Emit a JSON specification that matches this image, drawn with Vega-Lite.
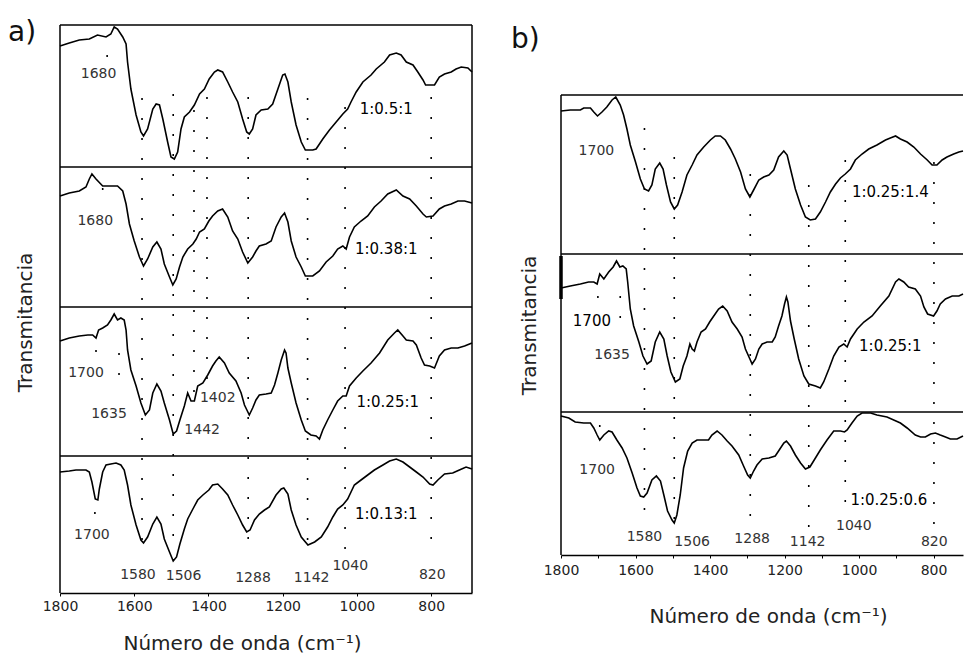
{
  "$schema": "https://vega.github.io/schema/vega-lite/v6.json",
  "padding": {"left": 8, "top": 18, "right": 0, "bottom": 0},
  "bounds": "flush",
  "spacing": 89,
  "config": {
    "font": "DejaVu Sans",
    "view": {"stroke": null},
    "axis": {"grid": false, "labelFont": "DejaVu Sans", "titleFont": "DejaVu Sans", "titleFontWeight": "normal", "titleColor": "#222", "labelColor": "#222"}
  },
  "datasets": {
    "specA": [
      {"s":"a1","wn":1800,"t":547},{"s":"a1","wn":1775,"t":550},{"s":"a1","wn":1748,"t":553},{"s":"a1","wn":1721,"t":554},{"s":"a1","wn":1699,"t":558},{"s":"a1","wn":1676,"t":556},{"s":"a1","wn":1663,"t":559},{"s":"a1","wn":1654,"t":566},{"s":"a1","wn":1645,"t":564},{"s":"a1","wn":1631,"t":556},{"s":"a1","wn":1622,"t":549},{"s":"a1","wn":1618,"t":531},{"s":"a1","wn":1609,"t":504},{"s":"a1","wn":1595,"t":478},{"s":"a1","wn":1582,"t":461},{"s":"a1","wn":1575,"t":457},{"s":"a1","wn":1564,"t":464},{"s":"a1","wn":1550,"t":484},{"s":"a1","wn":1541,"t":489},{"s":"a1","wn":1532,"t":488},{"s":"a1","wn":1523,"t":474},{"s":"a1","wn":1510,"t":451},{"s":"a1","wn":1501,"t":436},{"s":"a1","wn":1492,"t":434},{"s":"a1","wn":1483,"t":441},{"s":"a1","wn":1474,"t":464},{"s":"a1","wn":1465,"t":476},{"s":"a1","wn":1451,"t":481},{"s":"a1","wn":1438,"t":488},{"s":"a1","wn":1424,"t":499},{"s":"a1","wn":1411,"t":504},{"s":"a1","wn":1398,"t":514},{"s":"a1","wn":1384,"t":521},{"s":"a1","wn":1375,"t":523},{"s":"a1","wn":1362,"t":521},{"s":"a1","wn":1348,"t":511},{"s":"a1","wn":1335,"t":501},{"s":"a1","wn":1321,"t":491},{"s":"a1","wn":1308,"t":474},{"s":"a1","wn":1297,"t":461},{"s":"a1","wn":1290,"t":459},{"s":"a1","wn":1281,"t":464},{"s":"a1","wn":1272,"t":478},{"s":"a1","wn":1258,"t":483},{"s":"a1","wn":1240,"t":484},{"s":"a1","wn":1227,"t":489},{"s":"a1","wn":1213,"t":504},{"s":"a1","wn":1200,"t":518},{"s":"a1","wn":1194,"t":519},{"s":"a1","wn":1186,"t":511},{"s":"a1","wn":1177,"t":491},{"s":"a1","wn":1164,"t":468},{"s":"a1","wn":1150,"t":451},{"s":"a1","wn":1139,"t":443},{"s":"a1","wn":1119,"t":443},{"s":"a1","wn":1110,"t":444},{"s":"a1","wn":1092,"t":454},{"s":"a1","wn":1074,"t":463},{"s":"a1","wn":1056,"t":471},{"s":"a1","wn":1038,"t":479},{"s":"a1","wn":1025,"t":484},{"s":"a1","wn":1016,"t":491},{"s":"a1","wn":1002,"t":501},{"s":"a1","wn":984,"t":511},{"s":"a1","wn":962,"t":518},{"s":"a1","wn":948,"t":524},{"s":"a1","wn":926,"t":531},{"s":"a1","wn":912,"t":538},{"s":"a1","wn":894,"t":540},{"s":"a1","wn":881,"t":538},{"s":"a1","wn":867,"t":531},{"s":"a1","wn":849,"t":528},{"s":"a1","wn":836,"t":521},{"s":"a1","wn":822,"t":513},{"s":"a1","wn":815,"t":508},{"s":"a1","wn":791,"t":508},{"s":"a1","wn":778,"t":516},{"s":"a1","wn":764,"t":519},{"s":"a1","wn":746,"t":521},{"s":"a1","wn":733,"t":524},{"s":"a1","wn":719,"t":526},{"s":"a1","wn":701,"t":525},{"s":"a1","wn":690,"t":521},
      {"s":"a2","wn":1800,"t":397},{"s":"a2","wn":1775,"t":400},{"s":"a2","wn":1748,"t":402},{"s":"a2","wn":1730,"t":406},{"s":"a2","wn":1721,"t":414},{"s":"a2","wn":1714,"t":419},{"s":"a2","wn":1703,"t":414},{"s":"a2","wn":1685,"t":407},{"s":"a2","wn":1667,"t":407},{"s":"a2","wn":1645,"t":407},{"s":"a2","wn":1631,"t":402},{"s":"a2","wn":1622,"t":389},{"s":"a2","wn":1613,"t":369},{"s":"a2","wn":1600,"t":352},{"s":"a2","wn":1586,"t":336},{"s":"a2","wn":1575,"t":327},{"s":"a2","wn":1564,"t":334},{"s":"a2","wn":1550,"t":346},{"s":"a2","wn":1539,"t":351},{"s":"a2","wn":1528,"t":344},{"s":"a2","wn":1519,"t":329},{"s":"a2","wn":1505,"t":316},{"s":"a2","wn":1496,"t":308},{"s":"a2","wn":1487,"t":314},{"s":"a2","wn":1478,"t":326},{"s":"a2","wn":1469,"t":336},{"s":"a2","wn":1456,"t":344},{"s":"a2","wn":1442,"t":349},{"s":"a2","wn":1433,"t":354},{"s":"a2","wn":1424,"t":361},{"s":"a2","wn":1411,"t":364},{"s":"a2","wn":1399,"t":372},{"s":"a2","wn":1389,"t":377},{"s":"a2","wn":1375,"t":382},{"s":"a2","wn":1362,"t":384},{"s":"a2","wn":1348,"t":376},{"s":"a2","wn":1335,"t":362},{"s":"a2","wn":1321,"t":354},{"s":"a2","wn":1308,"t":341},{"s":"a2","wn":1294,"t":330},{"s":"a2","wn":1281,"t":336},{"s":"a2","wn":1272,"t":342},{"s":"a2","wn":1263,"t":347},{"s":"a2","wn":1245,"t":349},{"s":"a2","wn":1231,"t":352},{"s":"a2","wn":1218,"t":366},{"s":"a2","wn":1204,"t":376},{"s":"a2","wn":1195,"t":380},{"s":"a2","wn":1186,"t":371},{"s":"a2","wn":1177,"t":352},{"s":"a2","wn":1164,"t":336},{"s":"a2","wn":1150,"t":326},{"s":"a2","wn":1139,"t":317},{"s":"a2","wn":1119,"t":317},{"s":"a2","wn":1101,"t":322},{"s":"a2","wn":1083,"t":331},{"s":"a2","wn":1065,"t":337},{"s":"a2","wn":1052,"t":344},{"s":"a2","wn":1038,"t":347},{"s":"a2","wn":1029,"t":344},{"s":"a2","wn":1020,"t":356},{"s":"a2","wn":1007,"t":366},{"s":"a2","wn":989,"t":372},{"s":"a2","wn":971,"t":377},{"s":"a2","wn":953,"t":386},{"s":"a2","wn":935,"t":392},{"s":"a2","wn":917,"t":399},{"s":"a2","wn":894,"t":403},{"s":"a2","wn":876,"t":397},{"s":"a2","wn":858,"t":394},{"s":"a2","wn":840,"t":387},{"s":"a2","wn":822,"t":379},{"s":"a2","wn":813,"t":376},{"s":"a2","wn":795,"t":377},{"s":"a2","wn":778,"t":384},{"s":"a2","wn":764,"t":387},{"s":"a2","wn":746,"t":389},{"s":"a2","wn":728,"t":392},{"s":"a2","wn":710,"t":392},{"s":"a2","wn":690,"t":390},
      {"s":"a3","wn":1800,"t":252},{"s":"a3","wn":1775,"t":255},{"s":"a3","wn":1748,"t":257},{"s":"a3","wn":1725,"t":258},{"s":"a3","wn":1712,"t":258},{"s":"a3","wn":1703,"t":255},{"s":"a3","wn":1696,"t":263},{"s":"a3","wn":1685,"t":265},{"s":"a3","wn":1672,"t":268},{"s":"a3","wn":1663,"t":273},{"s":"a3","wn":1654,"t":279},{"s":"a3","wn":1645,"t":273},{"s":"a3","wn":1636,"t":275},{"s":"a3","wn":1627,"t":273},{"s":"a3","wn":1622,"t":263},{"s":"a3","wn":1618,"t":243},{"s":"a3","wn":1609,"t":223},{"s":"a3","wn":1595,"t":207},{"s":"a3","wn":1582,"t":190},{"s":"a3","wn":1570,"t":178},{"s":"a3","wn":1559,"t":183},{"s":"a3","wn":1550,"t":200},{"s":"a3","wn":1539,"t":209},{"s":"a3","wn":1528,"t":202},{"s":"a3","wn":1519,"t":190},{"s":"a3","wn":1505,"t":173},{"s":"a3","wn":1495,"t":159},{"s":"a3","wn":1486,"t":162},{"s":"a3","wn":1477,"t":173},{"s":"a3","wn":1465,"t":187},{"s":"a3","wn":1456,"t":200},{"s":"a3","wn":1447,"t":192},{"s":"a3","wn":1438,"t":192},{"s":"a3","wn":1429,"t":207},{"s":"a3","wn":1415,"t":210},{"s":"a3","wn":1402,"t":218},{"s":"a3","wn":1389,"t":227},{"s":"a3","wn":1380,"t":232},{"s":"a3","wn":1371,"t":236},{"s":"a3","wn":1357,"t":230},{"s":"a3","wn":1344,"t":220},{"s":"a3","wn":1326,"t":212},{"s":"a3","wn":1312,"t":200},{"s":"a3","wn":1303,"t":188},{"s":"a3","wn":1290,"t":178},{"s":"a3","wn":1281,"t":185},{"s":"a3","wn":1272,"t":193},{"s":"a3","wn":1263,"t":198},{"s":"a3","wn":1245,"t":199},{"s":"a3","wn":1231,"t":200},{"s":"a3","wn":1222,"t":208},{"s":"a3","wn":1213,"t":220},{"s":"a3","wn":1204,"t":233},{"s":"a3","wn":1195,"t":243},{"s":"a3","wn":1191,"t":240},{"s":"a3","wn":1186,"t":225},{"s":"a3","wn":1177,"t":210},{"s":"a3","wn":1164,"t":190},{"s":"a3","wn":1150,"t":173},{"s":"a3","wn":1139,"t":162},{"s":"a3","wn":1124,"t":158},{"s":"a3","wn":1110,"t":157},{"s":"a3","wn":1101,"t":154},{"s":"a3","wn":1092,"t":163},{"s":"a3","wn":1079,"t":173},{"s":"a3","wn":1065,"t":183},{"s":"a3","wn":1052,"t":192},{"s":"a3","wn":1038,"t":197},{"s":"a3","wn":1029,"t":197},{"s":"a3","wn":1020,"t":207},{"s":"a3","wn":1002,"t":215},{"s":"a3","wn":984,"t":222},{"s":"a3","wn":962,"t":230},{"s":"a3","wn":939,"t":240},{"s":"a3","wn":917,"t":253},{"s":"a3","wn":899,"t":260},{"s":"a3","wn":890,"t":263},{"s":"a3","wn":876,"t":257},{"s":"a3","wn":867,"t":253},{"s":"a3","wn":849,"t":252},{"s":"a3","wn":840,"t":248},{"s":"a3","wn":827,"t":235},{"s":"a3","wn":818,"t":228},{"s":"a3","wn":804,"t":227},{"s":"a3","wn":791,"t":225},{"s":"a3","wn":778,"t":237},{"s":"a3","wn":764,"t":243},{"s":"a3","wn":746,"t":245},{"s":"a3","wn":728,"t":245},{"s":"a3","wn":710,"t":247},{"s":"a3","wn":690,"t":250},
      {"s":"a4","wn":1800,"t":121},{"s":"a4","wn":1775,"t":122},{"s":"a4","wn":1757,"t":123},{"s":"a4","wn":1730,"t":123},{"s":"a4","wn":1721,"t":121},{"s":"a4","wn":1714,"t":111},{"s":"a4","wn":1705,"t":94},{"s":"a4","wn":1698,"t":93},{"s":"a4","wn":1694,"t":104},{"s":"a4","wn":1685,"t":121},{"s":"a4","wn":1676,"t":128},{"s":"a4","wn":1663,"t":129},{"s":"a4","wn":1649,"t":130},{"s":"a4","wn":1636,"t":128},{"s":"a4","wn":1627,"t":123},{"s":"a4","wn":1618,"t":108},{"s":"a4","wn":1609,"t":88},{"s":"a4","wn":1595,"t":68},{"s":"a4","wn":1582,"t":53},{"s":"a4","wn":1575,"t":50},{"s":"a4","wn":1564,"t":56},{"s":"a4","wn":1550,"t":69},{"s":"a4","wn":1539,"t":76},{"s":"a4","wn":1528,"t":69},{"s":"a4","wn":1519,"t":54},{"s":"a4","wn":1505,"t":41},{"s":"a4","wn":1495,"t":32},{"s":"a4","wn":1486,"t":36},{"s":"a4","wn":1477,"t":49},{"s":"a4","wn":1465,"t":64},{"s":"a4","wn":1456,"t":74},{"s":"a4","wn":1442,"t":84},{"s":"a4","wn":1429,"t":93},{"s":"a4","wn":1415,"t":98},{"s":"a4","wn":1399,"t":103},{"s":"a4","wn":1389,"t":108},{"s":"a4","wn":1375,"t":109},{"s":"a4","wn":1362,"t":104},{"s":"a4","wn":1348,"t":98},{"s":"a4","wn":1335,"t":88},{"s":"a4","wn":1321,"t":78},{"s":"a4","wn":1308,"t":68},{"s":"a4","wn":1297,"t":61},{"s":"a4","wn":1288,"t":63},{"s":"a4","wn":1276,"t":73},{"s":"a4","wn":1263,"t":79},{"s":"a4","wn":1249,"t":83},{"s":"a4","wn":1236,"t":86},{"s":"a4","wn":1218,"t":98},{"s":"a4","wn":1204,"t":104},{"s":"a4","wn":1197,"t":105},{"s":"a4","wn":1186,"t":99},{"s":"a4","wn":1177,"t":83},{"s":"a4","wn":1164,"t":68},{"s":"a4","wn":1150,"t":56},{"s":"a4","wn":1132,"t":48},{"s":"a4","wn":1114,"t":51},{"s":"a4","wn":1096,"t":56},{"s":"a4","wn":1079,"t":66},{"s":"a4","wn":1065,"t":76},{"s":"a4","wn":1052,"t":84},{"s":"a4","wn":1038,"t":88},{"s":"a4","wn":1025,"t":94},{"s":"a4","wn":1007,"t":108},{"s":"a4","wn":989,"t":113},{"s":"a4","wn":971,"t":118},{"s":"a4","wn":953,"t":123},{"s":"a4","wn":930,"t":128},{"s":"a4","wn":912,"t":132},{"s":"a4","wn":894,"t":134},{"s":"a4","wn":876,"t":131},{"s":"a4","wn":858,"t":126},{"s":"a4","wn":840,"t":121},{"s":"a4","wn":822,"t":116},{"s":"a4","wn":804,"t":109},{"s":"a4","wn":795,"t":108},{"s":"a4","wn":782,"t":113},{"s":"a4","wn":764,"t":119},{"s":"a4","wn":742,"t":120},{"s":"a4","wn":724,"t":123},{"s":"a4","wn":706,"t":126},{"s":"a4","wn":690,"t":124}
    ],
    "specB": [
      {"s":"b1","wn":1800,"t":444},{"s":"b1","wn":1775,"t":445},{"s":"b1","wn":1748,"t":445},{"s":"b1","wn":1739,"t":447},{"s":"b1","wn":1721,"t":447},{"s":"b1","wn":1712,"t":443},{"s":"b1","wn":1702,"t":439},{"s":"b1","wn":1690,"t":443},{"s":"b1","wn":1677,"t":448},{"s":"b1","wn":1663,"t":455},{"s":"b1","wn":1653,"t":458},{"s":"b1","wn":1641,"t":450},{"s":"b1","wn":1632,"t":440},{"s":"b1","wn":1623,"t":426},{"s":"b1","wn":1614,"t":410},{"s":"b1","wn":1600,"t":393},{"s":"b1","wn":1587,"t":376},{"s":"b1","wn":1576,"t":366},{"s":"b1","wn":1565,"t":364},{"s":"b1","wn":1556,"t":370},{"s":"b1","wn":1547,"t":386},{"s":"b1","wn":1535,"t":392},{"s":"b1","wn":1526,"t":386},{"s":"b1","wn":1517,"t":370},{"s":"b1","wn":1506,"t":353},{"s":"b1","wn":1496,"t":346},{"s":"b1","wn":1487,"t":350},{"s":"b1","wn":1475,"t":363},{"s":"b1","wn":1462,"t":380},{"s":"b1","wn":1448,"t":390},{"s":"b1","wn":1435,"t":400},{"s":"b1","wn":1417,"t":408},{"s":"b1","wn":1399,"t":415},{"s":"b1","wn":1386,"t":419},{"s":"b1","wn":1372,"t":419},{"s":"b1","wn":1359,"t":415},{"s":"b1","wn":1345,"t":406},{"s":"b1","wn":1332,"t":396},{"s":"b1","wn":1318,"t":383},{"s":"b1","wn":1305,"t":366},{"s":"b1","wn":1293,"t":358},{"s":"b1","wn":1283,"t":365},{"s":"b1","wn":1269,"t":375},{"s":"b1","wn":1256,"t":378},{"s":"b1","wn":1242,"t":380},{"s":"b1","wn":1229,"t":385},{"s":"b1","wn":1216,"t":398},{"s":"b1","wn":1202,"t":404},{"s":"b1","wn":1193,"t":400},{"s":"b1","wn":1184,"t":386},{"s":"b1","wn":1171,"t":366},{"s":"b1","wn":1157,"t":350},{"s":"b1","wn":1144,"t":338},{"s":"b1","wn":1131,"t":335},{"s":"b1","wn":1117,"t":336},{"s":"b1","wn":1104,"t":343},{"s":"b1","wn":1090,"t":353},{"s":"b1","wn":1077,"t":363},{"s":"b1","wn":1063,"t":371},{"s":"b1","wn":1050,"t":377},{"s":"b1","wn":1037,"t":381},{"s":"b1","wn":1023,"t":386},{"s":"b1","wn":1010,"t":395},{"s":"b1","wn":992,"t":401},{"s":"b1","wn":974,"t":406},{"s":"b1","wn":952,"t":410},{"s":"b1","wn":929,"t":415},{"s":"b1","wn":916,"t":417},{"s":"b1","wn":902,"t":419},{"s":"b1","wn":889,"t":416},{"s":"b1","wn":871,"t":413},{"s":"b1","wn":853,"t":408},{"s":"b1","wn":835,"t":401},{"s":"b1","wn":817,"t":395},{"s":"b1","wn":804,"t":390},{"s":"b1","wn":791,"t":390},{"s":"b1","wn":777,"t":395},{"s":"b1","wn":764,"t":398},{"s":"b1","wn":746,"t":401},{"s":"b1","wn":732,"t":403},{"s":"b1","wn":721,"t":404},
      {"s":"b2","wn":1800,"t":267},{"s":"b2","wn":1775,"t":269},{"s":"b2","wn":1748,"t":271},{"s":"b2","wn":1726,"t":273},{"s":"b2","wn":1712,"t":273},{"s":"b2","wn":1703,"t":271},{"s":"b2","wn":1696,"t":281},{"s":"b2","wn":1685,"t":276},{"s":"b2","wn":1672,"t":283},{"s":"b2","wn":1660,"t":288},{"s":"b2","wn":1651,"t":294},{"s":"b2","wn":1642,"t":288},{"s":"b2","wn":1634,"t":289},{"s":"b2","wn":1625,"t":286},{"s":"b2","wn":1621,"t":273},{"s":"b2","wn":1614,"t":246},{"s":"b2","wn":1605,"t":229},{"s":"b2","wn":1591,"t":213},{"s":"b2","wn":1580,"t":199},{"s":"b2","wn":1569,"t":191},{"s":"b2","wn":1558,"t":194},{"s":"b2","wn":1547,"t":213},{"s":"b2","wn":1535,"t":223},{"s":"b2","wn":1524,"t":216},{"s":"b2","wn":1515,"t":199},{"s":"b2","wn":1505,"t":183},{"s":"b2","wn":1493,"t":173},{"s":"b2","wn":1481,"t":176},{"s":"b2","wn":1472,"t":189},{"s":"b2","wn":1462,"t":199},{"s":"b2","wn":1454,"t":211},{"s":"b2","wn":1448,"t":206},{"s":"b2","wn":1442,"t":204},{"s":"b2","wn":1435,"t":213},{"s":"b2","wn":1424,"t":223},{"s":"b2","wn":1412,"t":226},{"s":"b2","wn":1401,"t":233},{"s":"b2","wn":1390,"t":239},{"s":"b2","wn":1377,"t":246},{"s":"b2","wn":1366,"t":249},{"s":"b2","wn":1354,"t":244},{"s":"b2","wn":1341,"t":233},{"s":"b2","wn":1327,"t":226},{"s":"b2","wn":1314,"t":218},{"s":"b2","wn":1305,"t":206},{"s":"b2","wn":1293,"t":196},{"s":"b2","wn":1287,"t":191},{"s":"b2","wn":1278,"t":196},{"s":"b2","wn":1269,"t":206},{"s":"b2","wn":1260,"t":211},{"s":"b2","wn":1247,"t":213},{"s":"b2","wn":1233,"t":213},{"s":"b2","wn":1225,"t":218},{"s":"b2","wn":1216,"t":229},{"s":"b2","wn":1207,"t":239},{"s":"b2","wn":1200,"t":251},{"s":"b2","wn":1195,"t":258},{"s":"b2","wn":1191,"t":253},{"s":"b2","wn":1184,"t":234},{"s":"b2","wn":1174,"t":216},{"s":"b2","wn":1162,"t":196},{"s":"b2","wn":1148,"t":179},{"s":"b2","wn":1135,"t":171},{"s":"b2","wn":1117,"t":169},{"s":"b2","wn":1104,"t":167},{"s":"b2","wn":1095,"t":173},{"s":"b2","wn":1081,"t":186},{"s":"b2","wn":1068,"t":199},{"s":"b2","wn":1054,"t":208},{"s":"b2","wn":1041,"t":211},{"s":"b2","wn":1032,"t":208},{"s":"b2","wn":1023,"t":216},{"s":"b2","wn":1005,"t":226},{"s":"b2","wn":987,"t":233},{"s":"b2","wn":965,"t":239},{"s":"b2","wn":943,"t":249},{"s":"b2","wn":920,"t":259},{"s":"b2","wn":902,"t":273},{"s":"b2","wn":893,"t":276},{"s":"b2","wn":880,"t":273},{"s":"b2","wn":867,"t":268},{"s":"b2","wn":849,"t":266},{"s":"b2","wn":835,"t":259},{"s":"b2","wn":826,"t":248},{"s":"b2","wn":816,"t":241},{"s":"b2","wn":800,"t":239},{"s":"b2","wn":791,"t":244},{"s":"b2","wn":782,"t":251},{"s":"b2","wn":768,"t":256},{"s":"b2","wn":750,"t":259},{"s":"b2","wn":732,"t":259},{"s":"b2","wn":721,"t":261},
      {"s":"b3","wn":1800,"t":139},{"s":"b3","wn":1779,"t":137},{"s":"b3","wn":1762,"t":133},{"s":"b3","wn":1739,"t":132},{"s":"b3","wn":1721,"t":132},{"s":"b3","wn":1712,"t":127},{"s":"b3","wn":1703,"t":120},{"s":"b3","wn":1696,"t":115},{"s":"b3","wn":1685,"t":120},{"s":"b3","wn":1672,"t":124},{"s":"b3","wn":1663,"t":123},{"s":"b3","wn":1650,"t":115},{"s":"b3","wn":1636,"t":107},{"s":"b3","wn":1623,"t":97},{"s":"b3","wn":1609,"t":82},{"s":"b3","wn":1596,"t":67},{"s":"b3","wn":1587,"t":59},{"s":"b3","wn":1578,"t":58},{"s":"b3","wn":1569,"t":62},{"s":"b3","wn":1556,"t":75},{"s":"b3","wn":1544,"t":79},{"s":"b3","wn":1533,"t":74},{"s":"b3","wn":1524,"t":60},{"s":"b3","wn":1514,"t":44},{"s":"b3","wn":1502,"t":35},{"s":"b3","wn":1496,"t":32},{"s":"b3","wn":1489,"t":40},{"s":"b3","wn":1480,"t":60},{"s":"b3","wn":1471,"t":87},{"s":"b3","wn":1460,"t":104},{"s":"b3","wn":1448,"t":112},{"s":"b3","wn":1435,"t":115},{"s":"b3","wn":1417,"t":115},{"s":"b3","wn":1404,"t":115},{"s":"b3","wn":1395,"t":120},{"s":"b3","wn":1381,"t":124},{"s":"b3","wn":1368,"t":120},{"s":"b3","wn":1354,"t":114},{"s":"b3","wn":1341,"t":109},{"s":"b3","wn":1323,"t":100},{"s":"b3","wn":1310,"t":89},{"s":"b3","wn":1299,"t":80},{"s":"b3","wn":1292,"t":77},{"s":"b3","wn":1283,"t":84},{"s":"b3","wn":1274,"t":90},{"s":"b3","wn":1260,"t":96},{"s":"b3","wn":1242,"t":97},{"s":"b3","wn":1225,"t":99},{"s":"b3","wn":1216,"t":104},{"s":"b3","wn":1202,"t":112},{"s":"b3","wn":1195,"t":114},{"s":"b3","wn":1184,"t":109},{"s":"b3","wn":1171,"t":100},{"s":"b3","wn":1157,"t":92},{"s":"b3","wn":1144,"t":86},{"s":"b3","wn":1132,"t":88},{"s":"b3","wn":1122,"t":94},{"s":"b3","wn":1104,"t":105},{"s":"b3","wn":1086,"t":115},{"s":"b3","wn":1068,"t":124},{"s":"b3","wn":1050,"t":124},{"s":"b3","wn":1039,"t":123},{"s":"b3","wn":1032,"t":125},{"s":"b3","wn":1019,"t":132},{"s":"b3","wn":1005,"t":139},{"s":"b3","wn":992,"t":142},{"s":"b3","wn":969,"t":142},{"s":"b3","wn":952,"t":140},{"s":"b3","wn":925,"t":138},{"s":"b3","wn":907,"t":135},{"s":"b3","wn":889,"t":132},{"s":"b3","wn":871,"t":127},{"s":"b3","wn":849,"t":120},{"s":"b3","wn":835,"t":118},{"s":"b3","wn":822,"t":118},{"s":"b3","wn":808,"t":121},{"s":"b3","wn":795,"t":122},{"s":"b3","wn":782,"t":120},{"s":"b3","wn":768,"t":118},{"s":"b3","wn":755,"t":116},{"s":"b3","wn":737,"t":116},{"s":"b3","wn":721,"t":119}
    ],
    "dotsA": [
      {"wn":1579,"t":495,"t2":45},{"wn":1495,"t":499,"t2":40},{"wn":1439,"t":483,"t2":193},{"wn":1404,"t":496,"t2":205},{"wn":1293,"t":496,"t2":43},{"wn":1133,"t":495,"t2":43},{"wn":1032,"t":486,"t2":38},{"wn":800,"t":496,"t2":48},{"wn":1673,"t":538,"t2":533},{"wn":1685,"t":405,"t2":399},{"wn":1703,"t":243,"t2":237},{"wn":1641,"t":240,"t2":200},{"wn":1706,"t":81,"t2":75}
    ],
    "dotsB": [
      {"wn":1576,"t":427,"t2":40},{"wn":1496,"t":398,"t2":35},{"wn":1292,"t":381,"t2":37},{"wn":1135,"t":370,"t2":24},{"wn":1037,"t":395,"t2":50},{"wn":799,"t":393,"t2":29},{"wn":1696,"t":130,"t2":110},{"wn":1701,"t":259,"t2":253},{"wn":1641,"t":259,"t2":219}
    ],
    "labA": [
      {"wn":1696,"t":519,"label":"1680","k":"n"},{"wn":921,"t":484,"label":"1:0.5:1","k":"r"},{"wn":1705,"t":372,"label":"1680","k":"n"},{"wn":921,"t":344,"label":"1:0.38:1","k":"r"},{"wn":1730,"t":220,"label":"1700","k":"n"},{"wn":1668,"t":179,"label":"1635","k":"n"},{"wn":1375,"t":195,"label":"1402","k":"n"},{"wn":1417,"t":163,"label":"1442","k":"n"},{"wn":917,"t":191,"label":"1:0.25:1","k":"r"},{"wn":1714,"t":58,"label":"1700","k":"n"},{"wn":1590,"t":18,"label":"1580","k":"n"},{"wn":1467,"t":17,"label":"1506","k":"n"},{"wn":1280,"t":15,"label":"1288","k":"n"},{"wn":1122,"t":15,"label":"1142","k":"n"},{"wn":1018,"t":27,"label":"1040","k":"n"},{"wn":797,"t":18,"label":"820","k":"n"},{"wn":921,"t":79,"label":"1:0.13:1","k":"r"}
    ],
    "labB": [
      {"wn":1705,"t":404,"label":"1700","k":"n"},{"wn":916,"t":363,"label":"1:0.25:1.4","k":"r"},{"wn":1717,"t":234,"label":"1700","k":"r"},{"wn":1663,"t":200,"label":"1635","k":"n"},{"wn":916,"t":209,"label":"1:0.25:1","k":"r"},{"wn":1703,"t":85,"label":"1700","k":"n"},{"wn":1576,"t":18,"label":"1580","k":"n"},{"wn":1448,"t":13,"label":"1506","k":"n"},{"wn":1287,"t":16,"label":"1288","k":"n"},{"wn":1138,"t":13,"label":"1142","k":"n"},{"wn":1014,"t":29,"label":"1040","k":"n"},{"wn":798,"t":13,"label":"820","k":"n"},{"wn":920,"t":55,"label":"1:0.25:0.6","k":"r"}
    ],
    "hA": [{"t":568},{"t":426},{"t":286},{"t":137}],
    "vA": [{"wn":1800},{"wn":690}],
    "hB": [{"t":460},{"t":301},{"t":143}],
    "vB": [{"wn":1800,"t":0,"t2":460,"w":1.5},{"wn":1800,"t":256,"t2":299,"w":3.5}]
  },
  "hconcat": [
    {
      "width": 412,
      "height": 568,
      "title": {"text": "a)", "anchor": "start", "frame": "group", "fontSize": 28, "fontWeight": "normal", "font": "DejaVu Sans", "color": "#111", "dx": -52, "dy": 23, "offset": 0},
      "layer": [
        {
          "data": {"name": "specA"},
          "mark": {"type": "line", "color": "black", "strokeWidth": 1.6, "interpolate": "linear"},
          "encoding": {
            "x": {"field": "wn", "type": "quantitative", "scale": {"domain": [1800, 690], "nice": false, "zero": false},
                  "axis": {"title": "Número de onda (cm⁻¹)", "titleFontSize": 20, "titlePadding": 20, "titleX": 182, "values": [1800,1775,1750,1725,1700,1675,1650,1625,1600,1575,1550,1525,1500,1475,1450,1425,1400,1375,1350,1325,1300,1275,1250,1225,1200,1175,1150,1125,1100,1075,1050,1025,1000,975,950,925,900,875,850,825,800,775,750,725,700], "format": "d", "labelExpr": "datum.value % 200 === 0 ? datum.label : ''", "tickSize": 3, "tickColor": "black", "domainColor": "black", "domainWidth": 1.5, "labelFontSize": 14, "labelPadding": 3, "labelFlush": false, "labelOverlap": false}},
            "y": {"field": "t", "type": "quantitative", "scale": {"domain": [0, 568], "nice": false, "zero": false},
                  "axis": {"title": "Transmitancia", "titleFontSize": 20, "titlePadding": 25, "titleY": 297, "labels": false, "ticks": false, "domain": false}},
            "detail": {"field": "s"}
          }
        },
        {
          "data": {"name": "dotsA"},
          "mark": {"type": "rule", "color": "black", "strokeWidth": 1.6, "strokeDash": [2, 18]},
          "encoding": {"x": {"field": "wn", "type": "quantitative"}, "y": {"field": "t", "type": "quantitative"}, "y2": {"field": "t2"}}
        },
        {
          "data": {"name": "hA"},
          "mark": {"type": "rule", "color": "black", "strokeWidth": 1.5},
          "encoding": {"y": {"field": "t", "type": "quantitative"}}
        },
        {
          "data": {"name": "vA"},
          "mark": {"type": "rule", "color": "black", "strokeWidth": 1.5},
          "encoding": {"x": {"field": "wn", "type": "quantitative"}}
        },
        {
          "data": {"name": "labA"},
          "transform": [{"filter": "datum.k === 'n'"}],
          "mark": {"type": "text", "fontSize": 14, "color": "#333", "baseline": "middle", "align": "center"},
          "encoding": {"x": {"field": "wn", "type": "quantitative"}, "y": {"field": "t", "type": "quantitative"}, "text": {"field": "label"}}
        },
        {
          "data": {"name": "labA"},
          "transform": [{"filter": "datum.k === 'r'"}],
          "mark": {"type": "text", "fontSize": 15, "color": "#000", "baseline": "middle", "align": "center"},
          "encoding": {"x": {"field": "wn", "type": "quantitative"}, "y": {"field": "t", "type": "quantitative"}, "text": {"field": "label"}}
        }
      ]
    },
    {
      "width": 402,
      "height": 530,
      "title": {"text": "b)", "anchor": "start", "frame": "group", "fontSize": 28, "fontWeight": "normal", "font": "DejaVu Sans", "color": "#111", "dx": -50, "dy": 29, "offset": 0},
      "layer": [
        {
          "data": {"name": "specB"},
          "mark": {"type": "line", "color": "black", "strokeWidth": 1.6, "interpolate": "linear"},
          "encoding": {
            "x": {"field": "wn", "type": "quantitative", "scale": {"domain": [1800, 721], "nice": false, "zero": false},
                  "axis": {"title": "Número de onda (cm⁻¹)", "titleFontSize": 20, "titlePadding": 29, "titleX": 207, "values": [1800,1775,1750,1725,1700,1675,1650,1625,1600,1575,1550,1525,1500,1475,1450,1425,1400,1375,1350,1325,1300,1275,1250,1225,1200,1175,1150,1125,1100,1075,1050,1025,1000,975,950,925,900,875,850,825,800,775,750,725], "format": "d", "labelExpr": "datum.value % 200 === 0 ? datum.label : ''", "tickSize": 3, "tickColor": "black", "domainColor": "black", "domainWidth": 1.5, "labelFontSize": 14, "labelPadding": 5, "labelFlush": false, "labelOverlap": false}},
            "y": {"field": "t", "type": "quantitative", "scale": {"domain": [0, 530], "nice": false, "zero": false},
                  "axis": {"title": "Transmitancia", "titleFontSize": 20, "titlePadding": 22, "titleY": 300, "labels": false, "ticks": false, "domain": false}},
            "detail": {"field": "s"}
          }
        },
        {
          "data": {"name": "dotsB"},
          "mark": {"type": "rule", "color": "black", "strokeWidth": 1.6, "strokeDash": [2, 18]},
          "encoding": {"x": {"field": "wn", "type": "quantitative"}, "y": {"field": "t", "type": "quantitative"}, "y2": {"field": "t2"}}
        },
        {
          "data": {"name": "hB"},
          "mark": {"type": "rule", "color": "black", "strokeWidth": 1.5},
          "encoding": {"y": {"field": "t", "type": "quantitative"}}
        },
        {
          "data": {"name": "vB"},
          "mark": {"type": "rule", "color": "black"},
          "encoding": {"x": {"field": "wn", "type": "quantitative"}, "y": {"field": "t", "type": "quantitative"}, "y2": {"field": "t2"}, "strokeWidth": {"field": "w", "type": "quantitative", "scale": null}}
        },
        {
          "data": {"name": "labB"},
          "transform": [{"filter": "datum.k === 'n'"}],
          "mark": {"type": "text", "fontSize": 14, "color": "#333", "baseline": "middle", "align": "center"},
          "encoding": {"x": {"field": "wn", "type": "quantitative"}, "y": {"field": "t", "type": "quantitative"}, "text": {"field": "label"}}
        },
        {
          "data": {"name": "labB"},
          "transform": [{"filter": "datum.k === 'r'"}],
          "mark": {"type": "text", "fontSize": 15, "color": "#000", "baseline": "middle", "align": "center"},
          "encoding": {"x": {"field": "wn", "type": "quantitative"}, "y": {"field": "t", "type": "quantitative"}, "text": {"field": "label"}}
        }
      ]
    }
  ]
}
